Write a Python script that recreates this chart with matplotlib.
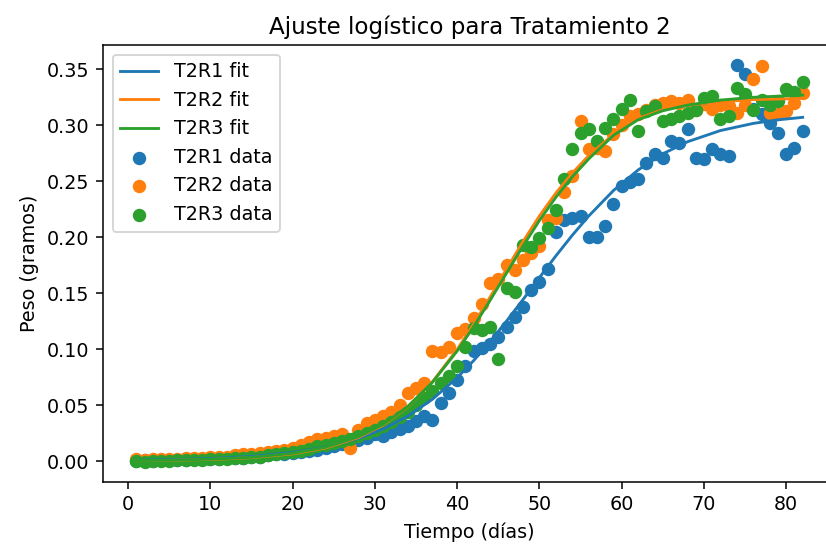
import matplotlib
matplotlib.use("Agg")
import matplotlib.pyplot as plt

days = list(range(1, 83))

t2r1 = [0.000, 0.001, 0.000, 0.001, 0.001, 0.001, 0.001, 0.002, 0.002, 0.002,
        0.002, 0.003, 0.003, 0.003, 0.004, 0.004, 0.005, 0.006, 0.006, 0.007,
        0.008, 0.009, 0.010, 0.012, 0.013, 0.015, 0.017, 0.019, 0.021, 0.024,
        0.022, 0.026, 0.029, 0.031, 0.036, 0.040, 0.037, 0.052, 0.061, 0.072,
        0.085, 0.098, 0.101, 0.105, 0.111, 0.120, 0.129, 0.138, 0.153, 0.160,
        0.172, 0.205, 0.215, 0.217, 0.219, 0.200, 0.200, 0.210, 0.230, 0.246,
        0.249, 0.252, 0.266, 0.274, 0.271, 0.286, 0.284, 0.297, 0.271, 0.270,
        0.279, 0.274, 0.273, 0.354, 0.346, 0.315, 0.310, 0.302, 0.293, 0.274,
        0.280, 0.295]

t2r2 = [0.002, 0.001, 0.002, 0.002, 0.002, 0.002, 0.003, 0.003, 0.003, 0.004,
        0.004, 0.004, 0.005, 0.006, 0.006, 0.007, 0.008, 0.009, 0.010, 0.012,
        0.014, 0.017, 0.020, 0.021, 0.022, 0.024, 0.012, 0.028, 0.034, 0.037,
        0.040, 0.044, 0.050, 0.061, 0.065, 0.070, 0.098, 0.097, 0.102, 0.114,
        0.118, 0.128, 0.140, 0.159, 0.163, 0.175, 0.171, 0.180, 0.186, 0.192,
        0.215, 0.217, 0.240, 0.255, 0.304, 0.279, 0.280, 0.277, 0.292, 0.300,
        0.308, 0.310, 0.314, 0.318, 0.320, 0.322, 0.320, 0.323, 0.314, 0.319,
        0.315, 0.318, 0.317, 0.311, 0.318, 0.341, 0.353, 0.311, 0.310, 0.313,
        0.320, 0.329]

t2r3 = [0.000, -0.001, 0.000, 0.000, 0.000, 0.001, 0.001, 0.001, 0.001, 0.002,
        0.002, 0.002, 0.003, 0.003, 0.004, 0.004, 0.005, 0.006, 0.007, 0.008,
        0.009, 0.011, 0.013, 0.014, 0.016, 0.018, 0.020, 0.022, 0.025, 0.028,
        0.031, 0.035, 0.039, 0.044, 0.050, 0.056, 0.063, 0.070, 0.076, 0.085,
        0.102, 0.119, 0.117, 0.120, 0.091, 0.155, 0.151, 0.193, 0.191, 0.199,
        0.208, 0.224, 0.252, 0.279, 0.293, 0.297, 0.286, 0.298, 0.306, 0.315,
        0.323, 0.295, 0.313, 0.317, 0.304, 0.306, 0.308, 0.311, 0.314, 0.324,
        0.326, 0.306, 0.308, 0.333, 0.328, 0.314, 0.323, 0.318, 0.322, 0.332,
        0.330, 0.339]

fit_days = [1, 5, 10, 15, 20, 24, 28, 31, 34, 37, 40, 42, 44, 46, 48, 50, 52,
            54, 56, 59, 62, 65, 68, 72, 76, 79, 82]

fit_r1 = [0.0007, 0.0012, 0.0022, 0.0041, 0.0077, 0.0125, 0.0202, 0.0286,
          0.0401, 0.0552, 0.0745, 0.0897, 0.1067, 0.1250, 0.1442, 0.1639,
          0.1833, 0.2018, 0.2190, 0.2417, 0.2601, 0.2745, 0.2853, 0.2953,
          0.3017, 0.3049, 0.3071]

fit_r2 = [0.0003, 0.0006, 0.0014, 0.0030, 0.0064, 0.0117, 0.0210, 0.0322,
          0.0484, 0.0708, 0.0997, 0.1223, 0.1465, 0.1715, 0.1960, 0.2190,
          0.2395, 0.2573, 0.2730, 0.2920, 0.3060, 0.3140, 0.3180, 0.3210,
          0.3230, 0.3235, 0.3240]

fit_r3 = [0.0004, 0.0007, 0.0016, 0.0033, 0.0069, 0.0123, 0.0217, 0.0328,
          0.0487, 0.0704, 0.0983, 0.1200, 0.1435, 0.1679, 0.1920, 0.2149,
          0.2357, 0.2540, 0.2700, 0.2910, 0.3050, 0.3130, 0.3180, 0.3225,
          0.3250, 0.3260, 0.3270]

DPI = 137.7
fig = plt.figure(figsize=(826 / DPI, 548 / DPI), dpi=DPI)
ax = fig.add_axes([103 / 826, 1 - 482 / 548, 733 / 826, 437 / 548])

ax.plot(fit_days, fit_r1, color="#1f77b4", label="T2R1 fit")
ax.plot(fit_days, fit_r2, color="#ff7f0e", label="T2R2 fit")
ax.plot(fit_days, fit_r3, color="#2ca02c", label="T2R3 fit")
ax.scatter(days, t2r1, color="#1f77b4", label="T2R1 data")
ax.scatter(days, t2r2, color="#ff7f0e", label="T2R2 data")
ax.scatter(days, t2r3, color="#2ca02c", label="T2R3 data")

ax.set_title("Ajuste logístico para Tratamiento 2")
ax.set_xlabel("Tiempo (días)")
ax.set_ylabel("Peso (gramos)")
ax.legend(loc="upper left")

fig.savefig("out.png", dpi=DPI)
